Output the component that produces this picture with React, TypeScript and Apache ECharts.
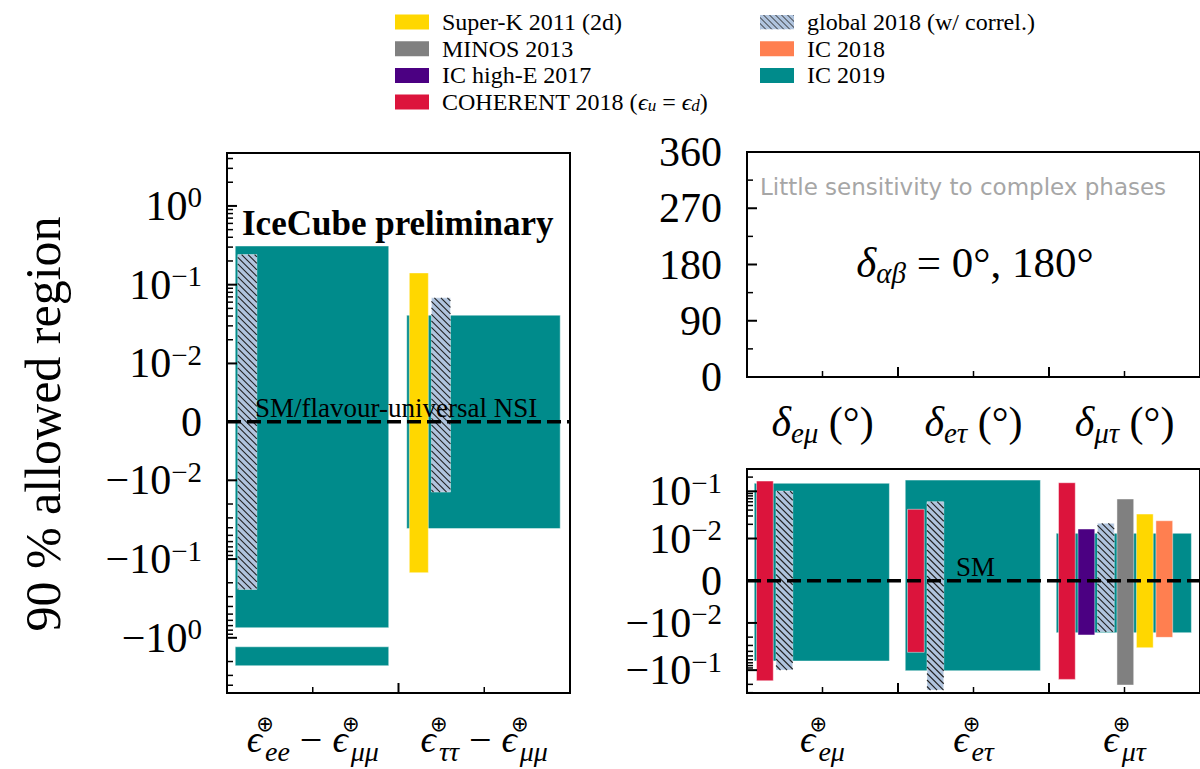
import React, { useEffect, useRef } from 'react';
import * as echarts from 'echarts';

const SERIF = "'Liberation Serif', 'DejaVu Serif', serif";
const SANS = "'DejaVu Sans', sans-serif";
const SYMBOL = "'DejaVu Sans', sans-serif";

// ---------- legend ----------
const LEGEND_COL1 = ['Super-K 2011 (2d)', 'MINOS 2013', 'IC high-E 2017', 'COHERENT 2018'];
const LEGEND_COL2 = ['global 2018 (w/ correl.)', 'IC 2018', 'IC 2019'];

const COLORS: Record<string, string> = {
  'Super-K 2011 (2d)': '#ffd700',
  'MINOS 2013': '#808080',
  'IC high-E 2017': '#4b0082',
  'COHERENT 2018': '#dc143c',
  'global 2018 (w/ correl.)': '#b0c4de',
  'IC 2018': '#ff7f50',
  'IC 2019': '#008b8b',
};

// ---------- categories ----------
const LEFT_CATEGORIES = [['ee', 'μμ'], ['ττ', 'μμ']];
const RIGHT_CATEGORIES = ['eμ', 'eτ', 'μτ'];
const PHASE_CATEGORIES = ['eμ', 'eτ', 'μτ'];

// ---------- data: [category, slot (-1 = full-width box), lower, upper] ----------
const LEFT_IC2019 = [[0, -1, -0.745, 0.31], [0, -1, -2.26, -1.3], [1, -1, -0.041, 0.041]];
const LEFT_GLOBAL = [[0, 0, -0.243, 0.241], [1, 1, -0.0141, 0.068]];
const LEFT_SUPERK = [[1, 0, -0.149, 0.141]];

const RIGHT_IC2019 = [[0, -1, -0.0641, 0.148], [1, -1, -0.103, 0.173], [2, -1, -0.0161, 0.0129]];
const RIGHT_COHERENT = [[0, 0, -0.168, 0.165], [1, 0, -0.042, 0.0416], [2, 0, -0.157, 0.152]];
const RIGHT_GLOBAL = [[0, 1, -0.0995, 0.101], [1, 1, -0.264, 0.0603], [2, 2, -0.0154, 0.021]];
const RIGHT_ICHIGHE = [[2, 1, -0.018, 0.0159]];
const RIGHT_MINOS = [[2, 3, -0.207, 0.0687]];
const RIGHT_SUPERK = [[2, 4, -0.0335, 0.033]];
const RIGHT_IC2018 = [[2, 5, -0.0202, 0.0238]];

// ---------- axes ----------
const LEFT_Y_TICKS = [-1, -0.1, -0.01, 0, 0.01, 0.1, 1];
const LEFT_Y_RANGE = [-5.02, 4.7];
const RIGHT_Y_TICKS = [-0.1, -0.01, 0, 0.01, 0.1];
const RIGHT_Y_RANGE = [-0.305, 0.297];
const PHASE_TICKS = [0, 90, 180, 270, 360];
const PHASE_MINOR_TICKS = [45, 135, 225, 315];
const LEFT_X_MAJOR = [0, 1, 2];
const LEFT_X_MINOR = [0.5, 1.5];
const RIGHT_X_MAJOR = [0, 1, 2, 3];
const RIGHT_X_MINOR = [0.5, 1.5, 2.5];

// symmetric-log scale (linear below 1e-2)
const LIN_THRESH = 0.01;
const LEFT_LINSCALE = 0.742;
const RIGHT_LINSCALE = 0.894;
function symlog(v: number, c: number) {
  const a = Math.abs(v);
  if (a <= LIN_THRESH) return (v / LIN_THRESH) * c;
  return Math.sign(v) * (c + Math.log10(a / LIN_THRESH));
}
function minorTicks(range: number[], c: number) {
  const out: number[] = [];
  [0.01, 0.1, 1].forEach((d) => {
    for (let k = 2; k <= 9; k++) {
      const v = k * d;
      if (v < range[1]) out.push(symlog(v, c));
      if (-v > range[0]) out.push(symlog(-v, c));
    }
  });
  return out;
}
function powLabel(v: number) {
  if (v === 0) return '{b|0}';
  const e = Math.round(Math.log10(Math.abs(v)));
  return `{b|${v < 0 ? '−' : ''}10}{s|${e < 0 ? '−' : ''}${Math.abs(e)}}`;
}
function symlogFormatter(ticks: number[], c: number) {
  return (val: number) => {
    const t = ticks.find((v) => Math.abs(symlog(v, c) - val) < 1e-6);
    return t === undefined ? '' : powLabel(t);
  };
}

// box layout inside a category
function slotExtent(cat: number, slot: number) {
  if (slot < 0) return [cat + 0.048, cat + 0.943];
  const x0 = cat + 0.063 + slot * 0.129;
  return [x0, x0 + 0.111];
}

function hatchLines(x: number, y: number, w: number, h: number, step: number) {
  const out: any[] = [];
  const cMin = x - (y + h);
  const cMax = x + w - y;
  for (let c = Math.ceil(cMin / step) * step; c <= cMax; c += step) {
    const xa = Math.max(x, y + c);
    const xb = Math.min(x + w, y + h + c);
    if (xb > xa) {
      out.push({
        type: 'line',
        shape: { x1: xa, y1: xa - c, x2: xb, y2: xb - c },
        style: { stroke: '#222', lineWidth: 1.1 },
      });
    }
  }
  return out;
}

function boxSeries(name: string, data: number[][], axisIndex: number, c: number, hatched: boolean, z: number) {
  const color = COLORS[name];
  return {
    type: 'custom',
    name,
    xAxisIndex: axisIndex,
    yAxisIndex: axisIndex,
    z,
    silent: true,
    itemStyle: { color },
    encode: { x: [0, 1], y: [2, 3] },
    data: data.map(([cat, slot, lo, hi]) => {
      const [x0, x1] = slotExtent(cat, slot);
      return [x0, x1, symlog(lo, c), symlog(hi, c)];
    }),
    renderItem: (_p: any, api: any) => {
      const p0 = api.coord([api.value(0), api.value(3)]);
      const p1 = api.coord([api.value(1), api.value(2)]);
      const x = p0[0];
      const y = p0[1];
      const w = p1[0] - p0[0];
      const h = p1[1] - p0[1];
      const children: any[] = [
        {
          type: 'rect',
          shape: { x, y, width: w, height: h },
          style: { fill: color, stroke: 'rgba(255,255,255,0.45)', lineWidth: 1 },
        },
      ];
      if (hatched) children.push(...hatchLines(x, y, w, h, 6.5));
      return { type: 'group', children };
    },
  };
}

// inward-pointing tick marks drawn through the axes' own scales
function tickSeries(axisIndex: number, dir: 'x' | 'y', edge: number, values: number[], len: number, width: number) {
  return {
    type: 'custom',
    xAxisIndex: axisIndex,
    yAxisIndex: axisIndex,
    silent: true,
    clip: false,
    z: 30,
    encode: dir === 'y' ? { x: 0, y: 1 } : { x: 1, y: 0 },
    data: values.map((v) => [edge, v]),
    renderItem: (_p: any, api: any) => {
      const p = dir === 'y' ? api.coord([api.value(0), api.value(1)]) : api.coord([api.value(1), api.value(0)]);
      const shape = dir === 'y'
        ? { x1: p[0], y1: p[1], x2: p[0] + len, y2: p[1] }
        : { x1: p[0], y1: p[1], x2: p[0], y2: p[1] - len };
      return { type: 'line', shape, style: { stroke: '#000', lineWidth: width } };
    },
  };
}

function zeroLine(axisIndex: number, xmax: number) {
  return {
    type: 'line',
    xAxisIndex: axisIndex,
    yAxisIndex: axisIndex,
    data: [[0, 0], [xmax, 0]],
    symbol: 'none',
    silent: true,
    z: 10,
    lineStyle: { color: '#000', width: 3.5, type: [14, 6] },
  };
}

const X_RICH = {
  e: { fontFamily: SERIF, fontStyle: 'italic', fontSize: 38, lineHeight: 52, padding: [0, 3, 0, 0], color: '#000' },
  p: { fontFamily: SYMBOL, fontSize: 21, lineHeight: 20, verticalAlign: 'top', width: 0, align: 'left', color: '#000' },
  b: { fontFamily: SERIF, fontStyle: 'italic', fontSize: 28, lineHeight: 24, verticalAlign: 'bottom', color: '#000' },
  o: { fontFamily: SERIF, fontSize: 40, lineHeight: 52, color: '#000' },
};
const Y_RICH = {
  b: { fontFamily: SERIF, fontSize: 42, lineHeight: 46, color: '#000' },
  s: { fontFamily: SERIF, fontSize: 29, lineHeight: 22, verticalAlign: 'top', color: '#000' },
};
const D_RICH = {
  d: { fontFamily: SERIF, fontStyle: 'italic', fontSize: 42, lineHeight: 50, color: '#000' },
  b: { fontFamily: SERIF, fontStyle: 'italic', fontSize: 29, lineHeight: 30, verticalAlign: 'bottom', color: '#000' },
  o: { fontFamily: SERIF, fontSize: 42, lineHeight: 50, color: '#000' },
};

function axis(kind: 'x' | 'y', gridIndex: number, min: number, max: number, label: any) {
  return {
    type: 'value', gridIndex, min, max, position: kind === 'x' ? 'bottom' : 'left',
    axisLine: { show: false, onZero: false }, splitLine: { show: false },
    axisTick: { show: false },
    axisLabel: label,
  };
}

function hatchIcon() {
  let lines = '';
  for (let c = -15; c <= 34; c += 6) lines += `M${c} 0 L${c + 15} 15 `;
  const svg = `<svg xmlns='http://www.w3.org/2000/svg' width='34' height='15'><rect width='34' height='15' fill='#b0c4de'/><path d='${lines}' stroke='#2a2a2a' stroke-width='1'/></svg>`;
  return 'image://data:image/svg+xml;charset=utf-8,' + encodeURIComponent(svg);
}

export default function App() {
  const ref = useRef<HTMLDivElement>(null);
  useEffect(() => {
    if (!ref.current) return;
    const chart = echarts.init(ref.current, null, { renderer: 'svg' });
    const leftMin = symlog(LEFT_Y_RANGE[0], LEFT_LINSCALE);
    const leftMax = symlog(LEFT_Y_RANGE[1], LEFT_LINSCALE);
    const rightMin = symlog(RIGHT_Y_RANGE[0], RIGHT_LINSCALE);
    const rightMax = symlog(RIGHT_Y_RANGE[1], RIGHT_LINSCALE);
    const leftMajorT = LEFT_Y_TICKS.map((v) => symlog(v, LEFT_LINSCALE));
    const rightMajorT = RIGHT_Y_TICKS.map((v) => symlog(v, RIGHT_LINSCALE));

    const legendText = {
      fontFamily: SERIF, fontSize: 24, color: '#000', lineHeight: 24, padding: [0, 0, 0, 8],
      rich: {
        t: { fontFamily: SERIF, fontSize: 24, lineHeight: 24, color: '#000' },
        i: { fontFamily: SERIF, fontStyle: 'italic', fontSize: 24, lineHeight: 24, color: '#000' },
        s: { fontFamily: SERIF, fontStyle: 'italic', fontSize: 17, lineHeight: 14, verticalAlign: 'bottom', color: '#000' },
      },
    };
    const legendFormatter = (name: string) =>
      name === 'COHERENT 2018' ? '{t|COHERENT 2018 (}{i|ϵ}{s|u}{t| = }{i|ϵ}{s|d}{t|)}' : name;

    const option: any = {
      animation: false,
      backgroundColor: '#fff',
      legend: [
        {
          data: LEGEND_COL1, left: 390, top: 5, orient: 'vertical', icon: 'rect',
          itemWidth: 34, itemHeight: 15, itemGap: 2.7, selectedMode: false,
          textStyle: legendText, formatter: legendFormatter,
        },
        {
          data: LEGEND_COL2.map((n) => (n.startsWith('global') ? { name: n, icon: hatchIcon() } : n)),
          left: 755, top: 5, orient: 'vertical', icon: 'rect',
          itemWidth: 34, itemHeight: 15, itemGap: 2.7, selectedMode: false,
          textStyle: legendText, formatter: legendFormatter,
        },
      ],
      grid: [
        { left: 227, top: 153, width: 343, height: 540, show: true, borderColor: '#000', borderWidth: 2 },
        { left: 747, top: 152, width: 459, height: 225, show: true, borderColor: '#000', borderWidth: 2 },
        { left: 747, top: 469, width: 459, height: 224, show: true, borderColor: '#000', borderWidth: 2 },
      ],
      xAxis: [
        axis('x', 0, 0, 2, {
          customValues: LEFT_X_MINOR, margin: 20, rich: X_RICH,
          formatter: (v: number) => {
            const [a, b] = LEFT_CATEGORIES[Math.floor(v)];
            return `{e|ϵ}{p|⊕}{b|${a}}{o| − }{e|ϵ}{p|⊕}{b|${b}}`;
          },
        }),
        axis('x', 1, 0, 3, {
          customValues: RIGHT_X_MINOR, margin: 20, rich: D_RICH,
          formatter: (v: number) => `{d|δ}{b|${PHASE_CATEGORIES[Math.floor(v)]}}{o| (°)}`,
        }),
        axis('x', 2, 0, 3, {
          customValues: RIGHT_X_MINOR, margin: 20, rich: X_RICH,
          formatter: (v: number) => `{e|ϵ}{p|⊕}{b|${RIGHT_CATEGORIES[Math.floor(v)]}}`,
        }),
      ],
      yAxis: [
        axis('y', 0, leftMin, leftMax, {
          customValues: leftMajorT, margin: 25, rich: Y_RICH,
          formatter: symlogFormatter(LEFT_Y_TICKS, LEFT_LINSCALE),
        }),
        axis('y', 1, 0, 360, {
          customValues: PHASE_TICKS, margin: 25,
          fontFamily: SERIF, fontSize: 42, color: '#000',
        }),
        axis('y', 2, rightMin, rightMax, {
          customValues: rightMajorT, margin: 25, rich: Y_RICH,
          formatter: symlogFormatter(RIGHT_Y_TICKS, RIGHT_LINSCALE),
        }),
      ],
      series: [
        boxSeries('IC 2019', LEFT_IC2019, 0, LEFT_LINSCALE, false, 1),
        boxSeries('global 2018 (w/ correl.)', LEFT_GLOBAL, 0, LEFT_LINSCALE, true, 2),
        boxSeries('Super-K 2011 (2d)', LEFT_SUPERK, 0, LEFT_LINSCALE, false, 2),
        zeroLine(0, 2),
        boxSeries('IC 2019', RIGHT_IC2019, 2, RIGHT_LINSCALE, false, 1),
        boxSeries('COHERENT 2018', RIGHT_COHERENT, 2, RIGHT_LINSCALE, false, 2),
        boxSeries('global 2018 (w/ correl.)', RIGHT_GLOBAL, 2, RIGHT_LINSCALE, true, 2),
        boxSeries('IC high-E 2017', RIGHT_ICHIGHE, 2, RIGHT_LINSCALE, false, 2),
        boxSeries('MINOS 2013', RIGHT_MINOS, 2, RIGHT_LINSCALE, false, 2),
        boxSeries('Super-K 2011 (2d)', RIGHT_SUPERK, 2, RIGHT_LINSCALE, false, 2),
        boxSeries('IC 2018', RIGHT_IC2018, 2, RIGHT_LINSCALE, false, 2),
        zeroLine(2, 3),
        // ticks: left panel
        tickSeries(0, 'y', 0, leftMajorT, 10, 2),
        tickSeries(0, 'y', 0, minorTicks(LEFT_Y_RANGE, LEFT_LINSCALE), 6, 1.5),
        tickSeries(0, 'x', leftMin, LEFT_X_MAJOR, 10, 2),
        tickSeries(0, 'x', leftMin, LEFT_X_MINOR, 6, 1.5),
        // ticks: phase panel
        tickSeries(1, 'y', 0, PHASE_TICKS, 10, 2),
        tickSeries(1, 'y', 0, PHASE_MINOR_TICKS, 6, 1.5),
        tickSeries(1, 'x', 0, RIGHT_X_MAJOR, 10, 2),
        tickSeries(1, 'x', 0, RIGHT_X_MINOR, 6, 1.5),
        // ticks: right lower panel
        tickSeries(2, 'y', 0, rightMajorT, 10, 2),
        tickSeries(2, 'y', 0, minorTicks(RIGHT_Y_RANGE, RIGHT_LINSCALE), 6, 1.5),
        tickSeries(2, 'x', rightMin, RIGHT_X_MAJOR, 10, 2),
        tickSeries(2, 'x', rightMin, RIGHT_X_MINOR, 6, 1.5),
      ],
      graphic: [
        {
          type: 'text', x: 43, y: 424, rotation: Math.PI / 2,
          style: { text: '90 % allowed region', fontFamily: SERIF, fontSize: 50, fill: '#000', align: 'center', verticalAlign: 'middle' },
        },
        {
          type: 'text', x: 242, y: 223, z: 20,
          style: { text: 'IceCube preliminary', fontFamily: SERIF, fontWeight: 'bold', fontSize: 35, fill: '#000', align: 'left', verticalAlign: 'middle' },
        },
        {
          type: 'text', x: 255, y: 408, z: 20,
          style: { text: 'SM/flavour-universal NSI', fontFamily: SERIF, fontSize: 27, fill: '#000', align: 'left', verticalAlign: 'middle' },
        },
        {
          type: 'text', x: 956, y: 567, z: 20,
          style: { text: 'SM', fontFamily: SERIF, fontSize: 27, fill: '#000', align: 'left', verticalAlign: 'middle' },
        },
        {
          type: 'text', x: 760, y: 187, z: 20,
          style: { text: 'Little sensitivity to complex phases', fontFamily: SANS, fontSize: 23, fill: '#a6a6a6', align: 'left', verticalAlign: 'middle' },
        },
        {
          type: 'text', x: 975, y: 262, z: 20,
          style: {
            text: '{d|δ}{b|αβ}{o| = 0°, 180°}',
            rich: {
              d: { fontFamily: SERIF, fontStyle: 'italic', fontSize: 43, lineHeight: 50, fill: '#000' },
              b: { fontFamily: SERIF, fontStyle: 'italic', fontSize: 29, lineHeight: 28, verticalAlign: 'bottom', fill: '#000' },
              o: { fontFamily: SERIF, fontSize: 43, lineHeight: 50, fill: '#000' },
            },
            align: 'center', verticalAlign: 'middle',
          },
        },
      ],
    };
    chart.setOption(option);
    return () => chart.dispose();
  }, []);
  return <div ref={ref} style={{ position: 'absolute', left: 0, top: 0, width: 1200, height: 769, background: '#fff' }} />;
}
